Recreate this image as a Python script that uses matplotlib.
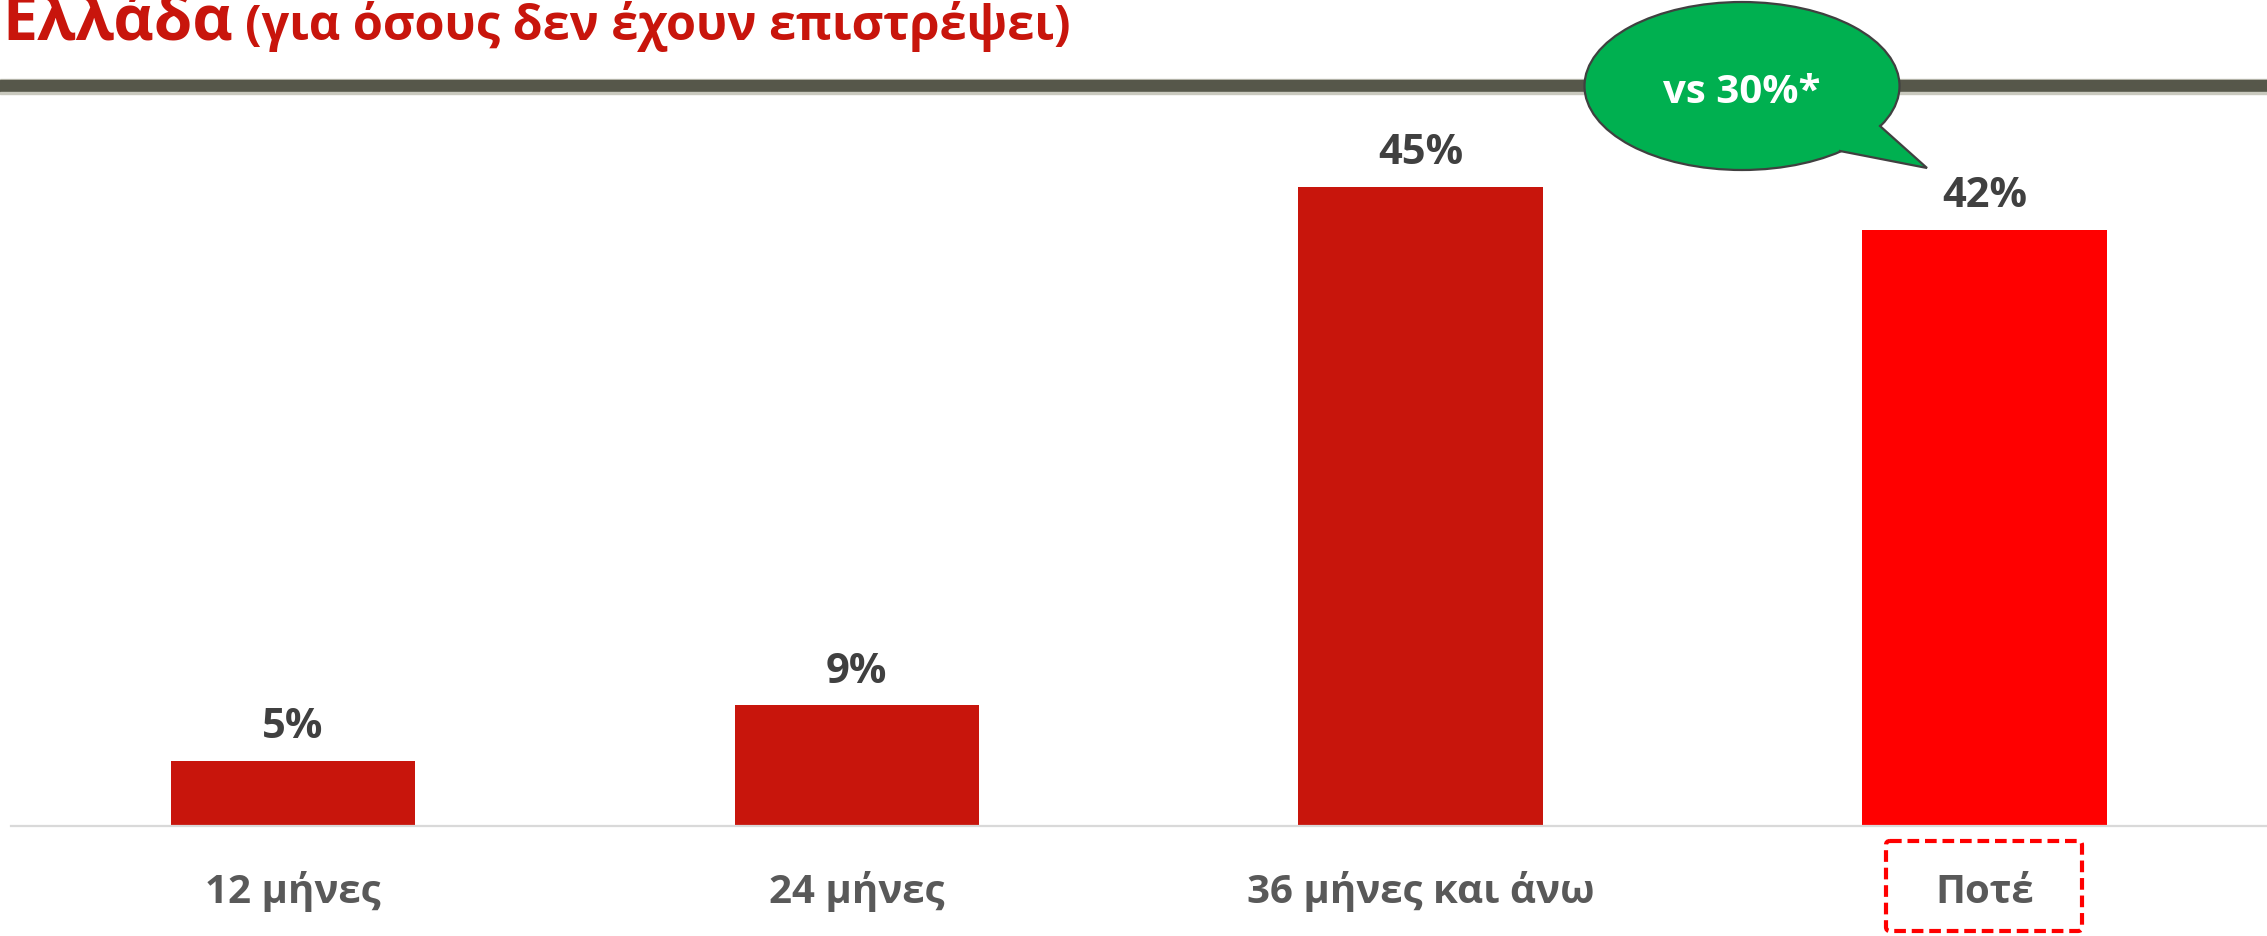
import matplotlib
matplotlib.use("Agg")
import matplotlib.pyplot as plt
from matplotlib.patches import Ellipse, Polygon, Rectangle, FancyBboxPatch
from matplotlib.lines import Line2D
from matplotlib.transforms import Affine2D, blended_transform_factory

plt.rcParams['font.family'] = ['Open Sans', 'DejaVu Sans']

# ---- data ----
categories = ["12 μήνες", "24 μήνες", "36 μήνες και άνω", "Ποτέ"]
values = [4.6, 8.5, 45.0, 42.0]
value_labels = ["5%", "9%", "45%", "42%"]
bar_colors = ["#C8150C", "#C8150C", "#C8150C", "#FF0000"]
title_main = "Ελλάδα"
title_sub = "(για όσους δεν έχουν επιστρέψει)"
bubble_text = "vs 30%*"

W, H = 2267, 937
fig = plt.figure(figsize=(W / 100, H / 100), dpi=100)
fig.patch.set_facecolor("white")
# pixel transform (origin top-left)
px = Affine2D().scale(1 / W, -1 / H).translate(0, 1) + fig.transFigure

# axes
ax_left, ax_right = 10.8, 2266.4
ax_bottom, ax_top = 827, 117
ax = fig.add_axes([ax_left / W, 1 - ax_bottom / H, (ax_right - ax_left) / W, (ax_bottom - ax_top) / H])
x = list(range(len(categories)))
bars = ax.bar(x, values, width=0.433, color=bar_colors, zorder=2)
ax.set_xlim(-0.5, len(categories) - 0.5)
ax.set_ylim(0, 50)
for s in ["top", "left", "right"]:
    ax.spines[s].set_visible(False)
ax.spines["bottom"].set_color("#D9D9D9")
ax.spines["bottom"].set_linewidth(1.6)
ax.set_xticks([])
ax.set_yticks([])
ax.patch.set_alpha(0)

for xi, v, lab in zip(x, values, value_labels):
    ax.annotate(lab, (xi, v), xytext=(0, 17), textcoords="offset points",
                ha="center", va="baseline", fontsize=30, fontweight="bold", color="#404040")

bt = blended_transform_factory(ax.transData, fig.transFigure)
for xi, c in zip(x, categories):
    ax.text(xi, 1 - 903 / H, c, transform=bt, ha="center", va="baseline",
            fontsize=29, fontweight="bold", color="#595959")

# dashed box around last category
box = FancyBboxPatch((1886, 842), 196, 90, boxstyle="round,pad=0,rounding_size=4",
                     transform=px, fill=False, edgecolor="#FF0000", linewidth=3,
                     linestyle=(0, (2.8, 1.4)), zorder=5)
fig.add_artist(box)

# title (cut at the top edge, as in the reference)
t1 = fig.text(2 / W, 1 - 40 / H, title_main, ha="left", va="baseline",
              fontsize=45, fontweight="bold", color="#C8150C")
fig.canvas.draw()
r = fig.canvas.get_renderer()
bb = t1.get_window_extent(r)
fig.text((bb.x1 + 12) / W, 1 - 40 / H, title_sub, ha="left", va="baseline",
         fontsize=35, fontweight="bold", color="#C8150C")

# gray band
fig.add_artist(Rectangle((0, 80), W, 1.5, transform=px, color="#C9C9BE", zorder=1))
fig.add_artist(Rectangle((0, 81), W, 12, transform=px, color="#56574A", zorder=1))
fig.add_artist(Rectangle((0, 93), W, 1.5, transform=px, color="#C9C9BE", zorder=1))

# bubble
green = "#00B050"
edge = "#404040"
cx, cy, ew, eh = 1742, 87, 315, 168
fig.add_artist(Ellipse((cx, cy), ew, eh, transform=px, facecolor=green,
                       edgecolor=edge, linewidth=1.6, zorder=3))
b1, b2, tip = (1840, 152), (1880, 127), (1927, 169)
b1i = (b1[0] - 12, b1[1] - 12)
b2i = (b2[0] - 14, b2[1] - 6)
fig.add_artist(Polygon([b1i, b1, tip, b2, b2i], closed=True, transform=px,
                       facecolor=green, edgecolor="none", zorder=4))
fig.add_artist(Line2D([b1[0], tip[0], b2[0]], [b1[1], tip[1], b2[1]], transform=px,
                      color=edge, linewidth=1.6, zorder=4, solid_joinstyle="miter"))
fig.text(cx / W, 1 - 103 / H, bubble_text, ha="center", va="baseline",
         fontsize=29, fontweight="bold", color="white", zorder=6)

fig.savefig("out.png", dpi=100, facecolor="white")
